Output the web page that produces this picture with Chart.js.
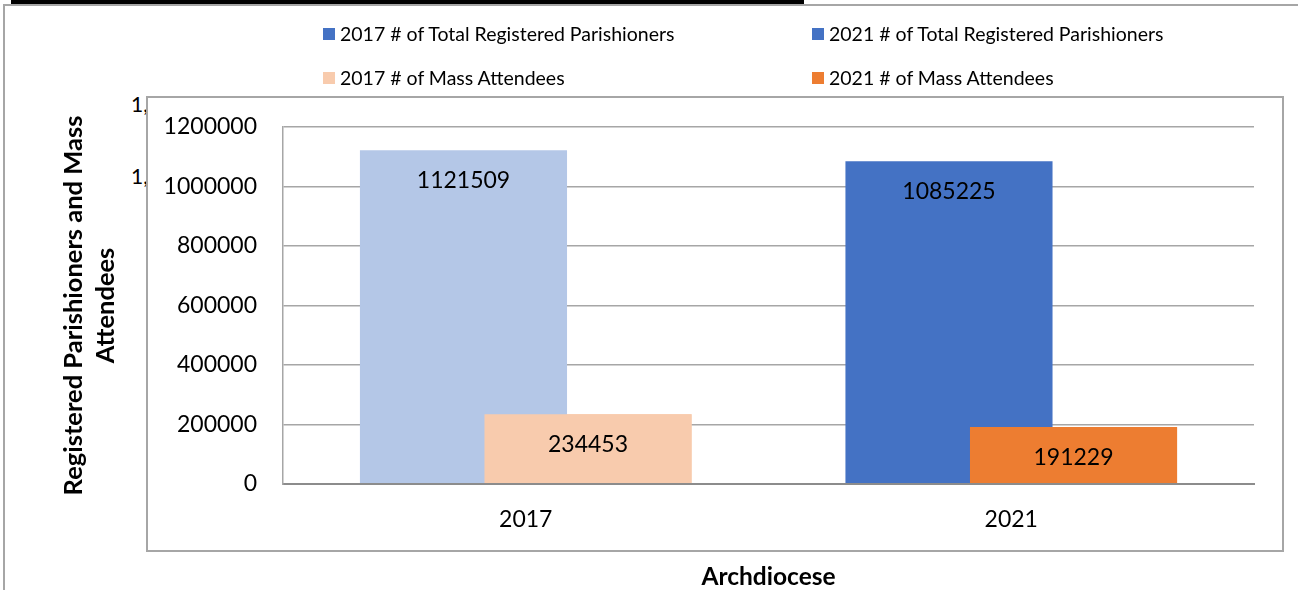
<!DOCTYPE html>
<html>
<head>
<meta charset="utf-8">
<title>Registered Parishioners and Mass Attendees</title>
<script src="https://cdn.jsdelivr.net/npm/chart.js@4.4.1/dist/chart.umd.min.js"></script>
<style>
  body { margin: 0; background: #fff; font-family: Lato, sans-serif; }
  #page { position: relative; width: 1298px; height: 590px; overflow: hidden; }
  .top-rule { position: absolute; left: 11px; top: 0; width: 793px; height: 4px; background: #000; }
  .outer-frame { position: absolute; left: 3px; top: 4px; width: 1400px; height: 700px; border: 2px solid #a6a6a6; box-sizing: border-box; }
  .ghost-tick { position: absolute; left: 131px; font-size: 21px; line-height: 20px; color: #000; }
  .plot-frame { position: absolute; left: 146px; top: 96px; width: 1138px; height: 456px; border: 2px solid #a6a6a6; box-sizing: border-box; background: #fff; }
  #chart { position: absolute; left: 0; top: 0; }
  #legend { position: absolute; left: 323px; top: 24px; display: grid; grid-template-columns: 489px auto; row-gap: 24px; }
  .legend-item { display: flex; align-items: center; height: 20px; font-size: 19.5px; line-height: 20px; color: #000; white-space: nowrap; }
  .legend-box { width: 12px; height: 12px; margin-right: 5px; }
</style>
</head>
<body>
<div id="page">
  <div class="outer-frame"></div>
  <div class="top-rule"></div>
  <div class="ghost-tick" style="top: 94px">1,200,000</div>
  <div class="ghost-tick" style="top: 166px">1,000,000</div>
  <div class="plot-frame"></div>
  <canvas id="chart" width="1298" height="590"></canvas>
  <div id="legend"></div>
</div>
<script>
const categories = ["2017", "2021"];
const totalParishioners = [1121509, 1085225];
const massAttendees = [234453, 191229];
const yTicks = [0, 200000, 400000, 600000, 800000, 1000000, 1200000];

const seriesLabels = [
  "2017 # of Total Registered Parishioners",
  "2021 # of Total Registered Parishioners",
  "2017 # of Mass Attendees",
  "2021 # of Mass Attendees",
];
const barColors = ["#b4c7e7", "#4472c4", "#f8cbad", "#ed7d31"];
const legendColors = ["#4472c4", "#4472c4", "#f8cbad", "#ed7d31"];

Chart.defaults.font.family = "Lato";
Chart.defaults.color = "#000";

// each series only has a value in its own year
function onlyIn(values, index) {
  return categories.map((category, i) => (i === index ? values[i] : null));
}

const datasets = [
  { label: seriesLabels[0], data: onlyIn(totalParishioners, 0), backgroundColor: barColors[0] },
  { label: seriesLabels[1], data: onlyIn(totalParishioners, 1), backgroundColor: barColors[1] },
  { label: seriesLabels[2], data: onlyIn(massAttendees, 0), backgroundColor: barColors[2] },
  { label: seriesLabels[3], data: onlyIn(massAttendees, 1), backgroundColor: barColors[3] },
];

// mass attendee bars sit in front of the parishioner bars, then the value labels
const frontBarsAndLabels = {
  id: "frontBarsAndLabels",
  afterDatasetsDraw(chart) {
    const { ctx } = chart;
    [2, 3].forEach((i) => chart.getDatasetMeta(i).controller.draw());

    ctx.save();
    ctx.font = "23px Lato";
    ctx.fillStyle = "#000";
    ctx.textAlign = "center";
    ctx.textBaseline = "middle";
    chart.data.datasets.forEach((dataset, i) => {
      chart.getDatasetMeta(i).data.forEach((bar, j) => {
        const value = dataset.data[j];
        if (value === null) return;
        ctx.fillText(String(value), bar.x, bar.y + 30);
      });
    });
    ctx.restore();
  },
};

const chart = new Chart(document.getElementById("chart"), {
  type: "bar",
  data: { labels: categories, datasets },
  plugins: [frontBarsAndLabels],
  options: {
    responsive: false,
    animation: false,
    layout: { padding: { top: 127, right: 44, bottom: 0, left: 40 } },
    datasets: {
      bar: {
        skipNull: true,
        categoryPercentage: 0.513,
        barPercentage: 1.663,
        borderWidth: 0,
      },
    },
    plugins: {
      legend: { display: false },
      tooltip: { enabled: false },
    },
    scales: {
      x: {
        grid: { display: false, drawTicks: false },
        border: { display: true, color: "#8c8c8c", width: 2 },
        ticks: { padding: 22, color: "#000", font: { size: 23 } },
        afterFit: (scale) => {
          scale.height = 106;
        },
        title: {
          display: true,
          text: "Archdiocese",
          color: "#000",
          font: { size: 24.5, weight: "bold", lineHeight: "26px" },
          padding: 0,
        },
      },
      y: {
        min: yTicks[0],
        max: yTicks[yTicks.length - 1],
        afterBuildTicks: (scale) => {
          scale.ticks = yTicks.map((value) => ({ value }));
        },
        afterFit: (scale) => {
          scale.width = 243;
        },
        ticks: {
          padding: 26,
          color: "#000",
          font: { size: 23 },
          callback: (value) => String(value),
        },
        grid: {
          drawTicks: false,
          color: (ctx) => (ctx.tick && ctx.tick.value === 0 ? "#8c8c8c" : "#a6a6a6"),
          lineWidth: (ctx) => (ctx.tick && ctx.tick.value === 0 ? 2 : 1.5),
        },
        border: { display: true, color: "#a6a6a6", width: 1.5 },
        title: {
          display: true,
          text: ["Registered Parishioners and Mass", "Attendees"],
          color: "#000",
          font: { size: 25.5, weight: "bold", lineHeight: "32px" },
          padding: { top: 18, bottom: 0 },
        },
      },
    },
  },
});

// legend laid out in two columns like the original
const legend = document.getElementById("legend");
chart.data.datasets.forEach((dataset, i) => {
  const item = document.createElement("div");
  item.className = "legend-item";
  const box = document.createElement("span");
  box.className = "legend-box";
  box.style.background = legendColors[i];
  const text = document.createElement("span");
  text.textContent = dataset.label;
  item.appendChild(box);
  item.appendChild(text);
  legend.appendChild(item);
});
</script>
</body>
</html>
